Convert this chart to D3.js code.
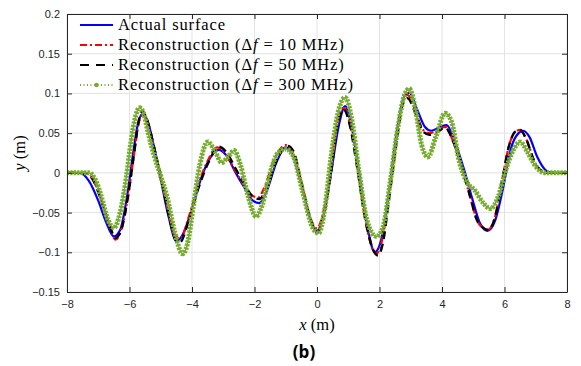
<!DOCTYPE html>
<meta charset="utf-8">
<style>
body { margin: 0; background: #fff; }
.tick text { font-family: "Liberation Sans", Arial, sans-serif; font-size: 11px; fill: #262626; }
.grid line { stroke: #e3e3e3; stroke-width: 1; }
.leg { font-family: "Liberation Serif", "Times New Roman", serif; font-size: 16.5px; fill: #000; }
</style>
<body>
<script src="https://d3js.org/d3.v7.min.js"></script>
<script>

// data (x in m, y in m)
var actualX = [-8, -7.6, -7.3, -7.0, -6.75, -6.5, -6.3, -6.1, -5.9, -5.75, -5.6, -5.45, -5.2, -5.0, -4.75, -4.5, -4.3, -4.0, -3.7, -3.4, -3.15, -2.9, -2.6, -2.3, -2.05, -1.85, -1.6, -1.3, -1.0, -0.8, -0.5, -0.2, 0.0, 0.2, 0.45, 0.7, 0.9, 1.1, 1.35, 1.6, 1.85, 2.05, 2.3, 2.55, 2.8, 2.95, 3.2, 3.45, 3.65, 3.95, 4.15, 4.4, 4.7, 4.95, 5.2, 5.45, 5.7, 5.95, 6.2, 6.45, 6.6, 6.8, 7.05, 7.3, 7.5, 8];
var actualY = [0, 0, -0.01, -0.035, -0.062, -0.080, -0.072, -0.035, 0.02, 0.058, 0.074, 0.068, 0.03, -0.008, -0.055, -0.086, -0.078, -0.045, -0.006, 0.02, 0.029, 0.022, 0.0, -0.02, -0.035, -0.038, -0.022, 0.013, 0.032, 0.025, -0.015, -0.06, -0.073, -0.055, 0.0, 0.06, 0.084, 0.06, 0.0, -0.065, -0.1, -0.085, -0.025, 0.05, 0.097, 0.101, 0.08, 0.058, 0.053, 0.058, 0.06, 0.04, 0.005, -0.03, -0.062, -0.073, -0.06, -0.02, 0.03, 0.05, 0.053, 0.045, 0.02, 0.004, 0, 0];

var rec10X = [-8, -7.4, -7.15, -6.9, -6.65, -6.45, -6.25, -6.05, -5.85, -5.72, -5.6, -5.45, -5.2, -5.0, -4.75, -4.55, -4.38, -4.1, -3.8, -3.5, -3.2, -2.95, -2.65, -2.35, -2.1, -1.88, -1.65, -1.35, -1.0, -0.8, -0.5, -0.2, 0.0, 0.2, 0.45, 0.65, 0.85, 1.05, 1.3, 1.55, 1.9, 2.05, 2.3, 2.55, 2.75, 2.9, 3.15, 3.4, 3.6, 3.9, 4.1, 4.35, 4.65, 4.9, 5.15, 5.45, 5.7, 5.9, 6.15, 6.35, 6.5, 6.7, 6.95, 7.2, 7.4, 8];
var rec10Y = [0, 0, -0.01, -0.035, -0.065, -0.084, -0.07, -0.03, 0.025, 0.06, 0.072, 0.066, 0.03, -0.005, -0.05, -0.078, -0.083, -0.055, -0.015, 0.015, 0.032, 0.025, 0.005, -0.015, -0.028, -0.031, -0.015, 0.018, 0.035, 0.028, -0.012, -0.058, -0.07, -0.05, 0.005, 0.06, 0.082, 0.062, 0.005, -0.06, -0.102, -0.09, -0.03, 0.045, 0.09, 0.098, 0.078, 0.054, 0.05, 0.055, 0.058, 0.04, 0.005, -0.03, -0.062, -0.072, -0.055, -0.015, 0.035, 0.052, 0.054, 0.042, 0.015, 0.002, 0, 0];

var rec50X = [-8, -7.4, -7.15, -6.9, -6.65, -6.45, -6.25, -6.05, -5.85, -5.72, -5.6, -5.45, -5.2, -5.0, -4.75, -4.55, -4.4, -4.1, -3.8, -3.45, -3.15, -2.9, -2.6, -2.3, -2.05, -1.85, -1.6, -1.3, -0.95, -0.75, -0.5, -0.2, 0.0, 0.2, 0.45, 0.65, 0.85, 1.05, 1.3, 1.55, 1.95, 2.1, 2.3, 2.55, 2.75, 2.9, 3.15, 3.4, 3.6, 3.9, 4.1, 4.35, 4.65, 4.9, 5.15, 5.5, 5.7, 5.9, 6.15, 6.35, 6.5, 6.7, 6.95, 7.2, 7.4, 8];
var rec50Y = [0, 0, -0.01, -0.035, -0.064, -0.082, -0.07, -0.03, 0.025, 0.062, 0.078, 0.068, 0.03, -0.005, -0.052, -0.082, -0.088, -0.06, -0.02, 0.015, 0.033, 0.026, 0.005, -0.016, -0.03, -0.033, -0.018, 0.015, 0.034, 0.027, -0.012, -0.06, -0.075, -0.055, 0.0, 0.058, 0.08, 0.06, 0.003, -0.06, -0.104, -0.09, -0.035, 0.04, 0.087, 0.094, 0.075, 0.052, 0.048, 0.053, 0.057, 0.04, 0.005, -0.03, -0.062, -0.072, -0.055, -0.015, 0.035, 0.052, 0.054, 0.042, 0.015, 0.002, 0, 0];

var rec300X = [-8, -7.3, -7.1, -6.9, -6.7, -6.5, -6.3, -6.1, -5.95, -5.8, -5.68, -5.55, -5.4, -5.2, -5.0, -4.8, -4.55, -4.3, -4.15, -3.95, -3.75, -3.5, -3.25, -3.05, -2.85, -2.65, -2.45, -2.2, -1.95, -1.75, -1.5, -1.25, -1.0, -0.75, -0.45, -0.15, 0.05, 0.25, 0.45, 0.7, 0.9, 1.1, 1.35, 1.6, 1.9, 2.1, 2.35, 2.6, 2.8, 2.95, 3.15, 3.35, 3.55, 3.8, 4.1, 4.3, 4.55, 4.8, 5.05, 5.3, 5.55, 5.8, 6.05, 6.3, 6.5, 6.75, 7.0, 7.3, 8];
var rec300Y = [0, 0, -0.008, -0.03, -0.058, -0.069, -0.05, -0.005, 0.04, 0.072, 0.082, 0.075, 0.05, 0.02, -0.004, -0.03, -0.075, -0.102, -0.09, -0.04, 0.01, 0.039, 0.026, 0.013, 0.02, 0.028, 0.01, -0.03, -0.055, -0.04, 0.0, 0.025, 0.03, 0.02, -0.025, -0.068, -0.076, -0.045, 0.02, 0.08, 0.095, 0.07, 0.0, -0.06, -0.08, -0.07, -0.01, 0.06, 0.098, 0.106, 0.08, 0.035, 0.02, 0.045, 0.075, 0.065, 0.015, -0.012, -0.022, -0.037, -0.045, -0.03, 0.005, 0.03, 0.039, 0.025, 0.008, 0, 0];

var xTicks = [-8, -6, -4, -2, 0, 2, 4, 6, 8];
var yTicks = [-0.15, -0.1, -0.05, 0, 0.05, 0.1, 0.15, 0.2];

var margin = {top: 14, right: 14, bottom: 74, left: 67},
    width = 581 - margin.left - margin.right,
    height = 366 - margin.top - margin.bottom;

var x = d3.scaleLinear().domain([-8, 8]).range([0, width]);
var y = d3.scaleLinear().domain([-0.15, 0.2]).range([height, 0]);

var svg = d3.select("body").append("svg")
    .attr("width", 581)
    .attr("height", 366)
  .append("g")
    .attr("transform", "translate(" + margin.left + "," + margin.top + ")");

// grid
svg.append("g").attr("class", "grid")
  .selectAll("line").data(xTicks).join("line")
    .attr("x1", d => x(d)).attr("x2", d => x(d))
    .attr("y1", 0).attr("y2", height);
svg.append("g").attr("class", "grid")
  .selectAll("line").data(yTicks).join("line")
    .attr("x1", 0).attr("x2", width)
    .attr("y1", d => y(d)).attr("y2", d => y(d));

// lines
var line = d3.line()
    .x(d => x(d[0]))
    .y(d => y(d[1]))
    .curve(d3.curveMonotoneX);

function pts(xs, ys) { return xs.map((v, i) => [v, ys[i]]); }

var series = [
  {data: pts(actualX, actualY), color: "#0000ff", width: 2.2, dash: null},
  {data: pts(rec10X, rec10Y), color: "#ff0000", width: 2.2, dash: "7,3,2,3"},
  {data: pts(rec50X, rec50Y), color: "#000000", width: 2.4, dash: "8,5"}
];

series.forEach(function(s) {
  svg.append("path")
    .datum(s.data)
    .attr("fill", "none")
    .attr("stroke", s.color)
    .attr("stroke-width", s.width)
    .attr("stroke-dasharray", s.dash)
    .attr("d", line);
});

// 300 MHz: dense markers along the line
var green = "#77ac30";
svg.append("path")
  .datum(pts(rec300X, rec300Y))
  .attr("fill", "none")
  .attr("stroke", green)
  .attr("stroke-width", 1.5)
  .attr("d", line);
svg.append("path")
  .datum(pts(rec300X, rec300Y))
  .attr("fill", "none")
  .attr("stroke", green)
  .attr("stroke-width", 5)
  .attr("stroke-dasharray", "2.2,1.2")
  .attr("d", line);

// axes (box with inward ticks)
function styleAxis(g) {
  g.select(".domain").attr("stroke", "#262626");
  g.selectAll(".tick line").attr("stroke", "#262626");
}
svg.append("g")
    .attr("transform", "translate(0," + height + ")")
    .call(d3.axisBottom(x).tickValues(xTicks).tickSizeInner(-5).tickSizeOuter(0).tickPadding(8).tickFormat(d3.format("d")))
    .call(styleAxis);
svg.append("g")
    .call(d3.axisTop(x).tickValues(xTicks).tickSizeInner(-5).tickSizeOuter(0).tickFormat(""))
    .call(styleAxis);
svg.append("g")
    .call(d3.axisLeft(y).tickValues(yTicks).tickSizeInner(-5).tickSizeOuter(0).tickPadding(7).tickFormat(d => d === 0 ? "0" : d3.format("")(d)))
    .call(styleAxis);
svg.append("g")
    .attr("transform", "translate(" + width + ",0)")
    .call(d3.axisRight(y).tickValues(yTicks).tickSizeInner(-5).tickSizeOuter(0).tickFormat(""))
    .call(styleAxis);

// axis labels
var lab = svg.append("text")
    .attr("class", "leg")
    .attr("font-size", "18px")
    .attr("text-anchor", "middle")
    .attr("x", x(0))
    .attr("y", height + 38);
lab.append("tspan").attr("font-style", "italic").text("x");
lab.append("tspan").text(" (m)");

var ylab = svg.append("text")
    .attr("class", "leg")
    .attr("font-size", "18px")
    .attr("text-anchor", "middle")
    .attr("transform", "translate(-42," + (y(0.025)) + ") rotate(-90)");
ylab.append("tspan").attr("font-style", "italic").text("y");
ylab.append("tspan").text(" (m)");

// legend
var legend = [
  {label: "Actual surface", color: "#0000ff", dash: null},
  {label: "10", color: "#ff0000", dash: "7,3,2,3"},
  {label: "50", color: "#000000", dash: "9,7"},
  {label: "300", color: green, dash: "1,2.5"}
];
var lg = svg.append("g").attr("transform", "translate(13,11)");
var texts = [];
legend.forEach(function(d, i) {
  var row = lg.append("g").attr("transform", "translate(0," + (i * 20) + ")");
  row.append("line")
    .attr("x1", 0).attr("x2", 33)
    .attr("stroke", d.color)
    .attr("stroke-width", 2)
    .attr("stroke-dasharray", d.dash);
  if (i === 3) {
    row.append("circle").attr("cx", 16.5).attr("cy", 0).attr("r", 2.2).attr("fill", green);
  }
  var t = row.append("text").attr("class", "leg").attr("x", 38).attr("dy", "0.33em");
  if (i === 0) {
    t.text(d.label);
  } else {
    t.append("tspan").text("Reconstruction (Δ");
    t.append("tspan").attr("font-style", "italic").text("f");
    t.append("tspan").text(" = " + d.label + " MHz)");
  }
  texts.push(t);
});
// stretch the serif legend text to the width of the original typeset labels
var longest = texts[3].node().getComputedTextLength();
var ls = (235 - longest) / 28;
texts.forEach(t => t.attr("letter-spacing", ls.toFixed(2) + "px"));

// panel label
d3.select("svg").append("text")
    .attr("x", 304)
    .attr("y", 358)
    .attr("text-anchor", "middle")
    .attr("font-family", "'Open Sans', sans-serif")
    .attr("font-weight", "bold")
    .attr("font-size", "17px")
    .text("(b)");

</script>
</body>
